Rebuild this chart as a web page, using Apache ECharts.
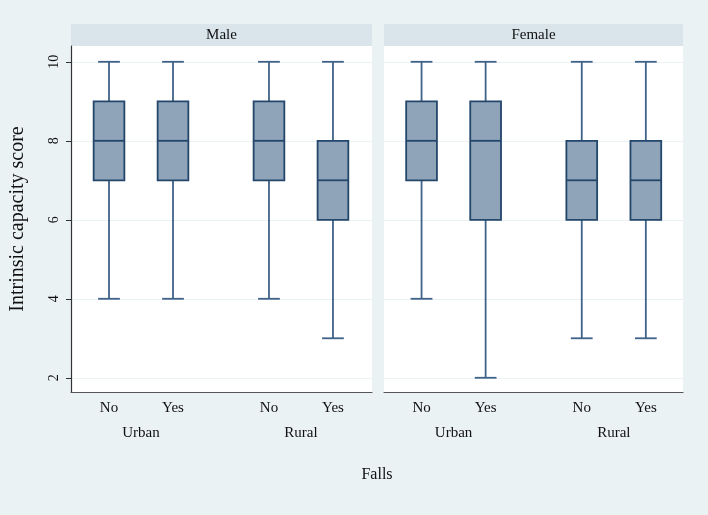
<!DOCTYPE html>
<html>
<head>
<meta charset="utf-8">
<script src="https://cdn.jsdelivr.net/npm/echarts@6/dist/echarts.min.js"></script>
<style>
html,body{margin:0;padding:0;background:#EAF2F3;}
#chart{width:708px;height:515px;}
</style>
</head>
<body>
<div id="chart"></div>
<script>
// ---- data ----
const panels = ['Male', 'Female'];
const residence = ['Urban', 'Rural'];
const falls = ['No', 'Yes'];
// each box: [min, Q1, median, Q3, max], order: Urban-No, Urban-Yes, Rural-No, Rural-Yes
const maleStats = [
  [4, 7, 8, 9, 10],
  [4, 7, 8, 9, 10],
  [4, 7, 8, 9, 10],
  [3, 6, 7, 8, 10]
];
const femaleStats = [
  [4, 7, 8, 9, 10],
  [2, 6, 8, 9, 10],
  [3, 6, 7, 8, 10],
  [3, 6, 7, 8, 10]
];
const yTicks = [2, 4, 6, 8, 10];
const yTitle = 'Intrinsic capacity score';
const xTitle = 'Falls';

// ---- layout helpers ----
const FONT = 'Liberation Serif';
const BG = '#EAF2F3';
const STRIP = '#D9E5EB';
const posOf = (g, f) => 1 + g * 2.5 + f;   // slot position on the x scale
const subPos = [], subLab = [], grpPos = [], grpLab = [];
residence.forEach((r, g) => {
  falls.forEach((f, i) => { subPos.push(posOf(g, i)); subLab.push(f); });
  grpPos.push((posOf(g, 0) + posOf(g, 1)) / 2); grpLab.push(r);
});
function labelFor(positions, labels) {
  return v => { const k = positions.findIndex(p => Math.abs(p - v) < 1e-6); return k >= 0 ? labels[k] : ''; };
}

const grids = [
  {left: 71, top: 46, width: 301, height: 346, show: true, backgroundColor: '#fff', borderWidth: 0},
  {left: 384, top: 46, width: 299, height: 346, show: true, backgroundColor: '#fff', borderWidth: 0}
];
const xRanges = [[0.406, 5.11], [0.414, 5.08]];
const yMin = 1.64, yMax = 10.4;

const xAxis = [], yAxis = [], series = [];
panels.forEach((p, pi) => {
  xAxis.push({
    type: 'value', gridIndex: pi, min: xRanges[pi][0], max: xRanges[pi][1],
    axisLine: {show: true, onZero: false, lineStyle: {color: '#555', width: 1.2}},
    axisTick: {show: false}, splitLine: {show: false},
    axisLabel: {customValues: subPos, formatter: labelFor(subPos, subLab), fontFamily: FONT, fontSize: 15, color: '#111', margin: 9}
  });
  xAxis.push({
    type: 'value', gridIndex: pi, min: xRanges[pi][0], max: xRanges[pi][1], position: 'bottom', offset: 25,
    axisLine: {show: false}, axisTick: {show: false}, splitLine: {show: false},
    axisLabel: {customValues: grpPos, formatter: labelFor(grpPos, grpLab), fontFamily: FONT, fontSize: 15, color: '#111', margin: 9}
  });
  yAxis.push({
    type: 'value', gridIndex: pi, min: yMin, max: yMax,
    name: pi === 0 ? yTitle : '', nameLocation: 'middle', nameGap: 43, nameRotate: 90,
    nameTextStyle: {fontFamily: FONT, fontSize: 20, color: '#111'},
    axisLine: {show: pi === 0, lineStyle: {color: '#333', width: 1.2}},
    axisTick: {show: pi === 0, customValues: yTicks, length: 5, lineStyle: {color: '#333'}},
    axisLabel: {show: pi === 0, customValues: yTicks, rotate: 90, fontFamily: FONT, fontSize: 14, color: '#111', margin: 10},
    splitLine: {show: true, lineStyle: {color: BG, width: 1.2}}
  });
  const stats = pi === 0 ? maleStats : femaleStats;
  const data = stats.map((s, k) => [posOf(Math.floor(k / 2), k % 2)].concat(s));
  series.push({
    type: 'custom', xAxisIndex: pi * 2, yAxisIndex: pi, data: data,
    renderItem: function (params, api) {
      const x = api.value(0);
      const mn = api.coord([x, api.value(1)]), q1 = api.coord([x, api.value(2)]), md = api.coord([x, api.value(3)]),
            q3 = api.coord([x, api.value(4)]), mx = api.coord([x, api.value(5)]);
      const bw = api.size([0.48, 0])[0], cw = api.size([0.34, 0])[0];
      const cx = mn[0];
      const wStyle = {stroke: '#3F6289', lineWidth: 1.8};
      const bStyle = {stroke: '#23466B', lineWidth: 1.8};
      return {type: 'group', children: [
        {type: 'line', shape: {x1: cx, y1: mn[1], x2: cx, y2: q1[1]}, style: wStyle},
        {type: 'line', shape: {x1: cx, y1: q3[1], x2: cx, y2: mx[1]}, style: wStyle},
        {type: 'line', shape: {x1: cx - cw / 2, y1: mn[1], x2: cx + cw / 2, y2: mn[1]}, style: wStyle},
        {type: 'line', shape: {x1: cx - cw / 2, y1: mx[1], x2: cx + cw / 2, y2: mx[1]}, style: wStyle},
        {type: 'rect', shape: {x: cx - bw / 2, y: q3[1], width: bw, height: q1[1] - q3[1]}, style: {fill: '#8FA4B9', stroke: '#23466B', lineWidth: 1.8}},
        {type: 'line', shape: {x1: cx - bw / 2, y1: md[1], x2: cx + bw / 2, y2: md[1]}, style: bStyle}
      ]};
    }
  });
});

const chart = echarts.init(document.getElementById('chart'));
chart.setOption({
  backgroundColor: BG,
  animation: false,
  grid: grids,
  xAxis: xAxis,
  yAxis: yAxis,
  series: series,
  graphic: [
    {type: 'rect', shape: {x: 71, y: 24, width: 301, height: 22}, style: {fill: STRIP}},
    {type: 'rect', shape: {x: 384, y: 24, width: 299, height: 22}, style: {fill: STRIP}},
    {type: 'text', x: 221.5, y: 35, style: {text: panels[0], font: '15px "Liberation Serif"', fill: '#111', textAlign: 'center', textVerticalAlign: 'middle'}},
    {type: 'text', x: 533.5, y: 35, style: {text: panels[1], font: '15px "Liberation Serif"', fill: '#111', textAlign: 'center', textVerticalAlign: 'middle'}},
    {type: 'text', x: 377, y: 475, style: {text: xTitle, font: '16px "Liberation Serif"', fill: '#111', textAlign: 'center', textVerticalAlign: 'middle'}}
  ]
});
</script>
</body>
</html>
